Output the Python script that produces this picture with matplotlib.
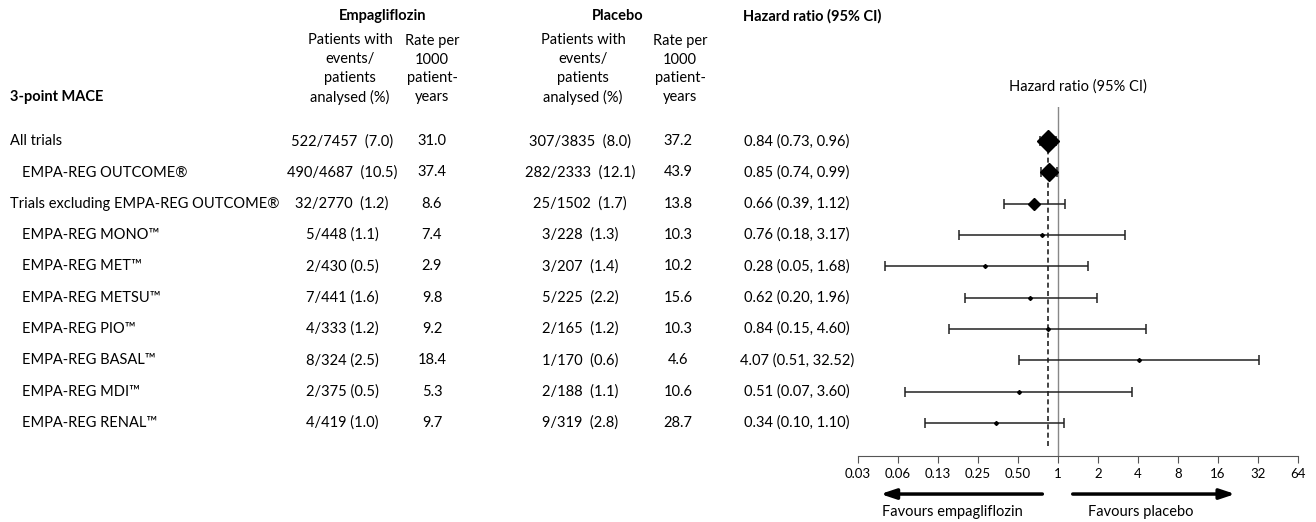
import matplotlib.pyplot as plt
import matplotlib.transforms as mtransforms
import numpy as np

plt.rcParams['font.family'] = ['Lato', 'DejaVu Sans']

labels = ["All trials", "EMPA-REG OUTCOME®", "Trials excluding EMPA-REG OUTCOME®",
          "EMPA-REG MONO™", "EMPA-REG MET™", "EMPA-REG METSU™", "EMPA-REG PIO™",
          "EMPA-REG BASAL™", "EMPA-REG MDI™", "EMPA-REG RENAL™"]
indent = [0, 1, 0, 1, 1, 1, 1, 1, 1, 1]
empa_events = ["522/7457  (7.0)", "490/4687  (10.5)", "32/2770  (1.2)", "5/448 (1.1)",
               "2/430 (0.5)", "7/441 (1.6)", "4/333 (1.2)", "8/324 (2.5)",
               "2/375 (0.5)", "4/419 (1.0)"]
empa_rate = ["31.0", "37.4", "8.6", "7.4", "2.9", "9.8", "9.2", "18.4", "5.3", "9.7"]
pbo_events = ["307/3835  (8.0)", "282/2333  (12.1)", "25/1502  (1.7)", "3/228  (1.3)",
              "3/207  (1.4)", "5/225  (2.2)", "2/165  (1.2)", "1/170  (0.6)",
              "2/188  (1.1)", "9/319  (2.8)"]
pbo_rate = ["37.2", "43.9", "13.8", "10.3", "10.2", "15.6", "10.3", "4.6", "10.6", "28.7"]
hr = [0.84, 0.85, 0.66, 0.76, 0.28, 0.62, 0.84, 4.07, 0.51, 0.34]
lo = [0.73, 0.74, 0.39, 0.18, 0.05, 0.20, 0.15, 0.51, 0.07, 0.10]
hi = [0.96, 0.99, 1.12, 3.17, 1.68, 1.96, 4.60, 32.52, 3.60, 1.10]
marker_size = [11, 9, 6, 2, 2, 2, 2, 2, 2, 2]
tick_vals = [2.0 ** k for k in range(-5, 7)]
tick_labels = ["0.03", "0.06", "0.13", "0.25", "0.50", "1", "2", "4", "8", "16", "32", "64"]
overall_hr = 0.84

W, H = 1316, 522
fig = plt.figure(figsize=(W / 100, H / 100), dpi=100)

def fx(px):
    return px / W

def fy(py):
    return 1 - py / H

ax = fig.add_axes([fx(858), fy(456), fx(440), fy(107) - fy(456)])
ax.set_xscale('log', base=2)
ax.set_xlim(2.0 ** -5, 2.0 ** 6)
ax.set_ylim(10.06, -1.09)
ax.set_xticks(tick_vals)
ax.set_xticklabels(tick_labels)
ax.minorticks_off()
ax.tick_params(axis='x', direction='out', length=5, labelsize=9.5, color='#555555')
ax.set_yticks([])
for s in ['left', 'top', 'right']:
    ax.spines[s].set_visible(False)
ax.spines['bottom'].set_color('#555555')

ax.axvline(1, color='#888888', lw=1)
ax.plot([overall_hr, overall_hr], [0, 9.8], color='#222222', lw=1.2, ls=(0, (3, 2)))

y = np.arange(len(labels))
for i in range(len(labels)):
    ax.errorbar(hr[i], y[i], xerr=[[hr[i] - lo[i]], [hi[i] - hr[i]]], fmt='none',
                ecolor='#222222', elinewidth=1.1, capsize=3.5, capthick=1.1)
    ax.plot(hr[i], y[i], marker='D', color='black', ms=marker_size[i], ls='none')

ax.set_title("Hazard ratio (95% CI)", fontsize=10.5, pad=12)

# arrows
ax.annotate("", xy=(0.044, -0.109), xytext=(0.80, -0.109), xycoords=('data', 'axes fraction'),
            arrowprops=dict(arrowstyle='-|>,head_length=0.9,head_width=0.3', lw=2.5, color='black'))
ax.annotate("", xy=(22.6, -0.109), xytext=(1.23, -0.109), xycoords=('data', 'axes fraction'),
            arrowprops=dict(arrowstyle='-|>,head_length=0.9,head_width=0.3', lw=2.5, color='black'))
fig.text(fx(952), fy(512), "Favours empagliflozin", ha='center', va='center', fontsize=10.5)
fig.text(fx(1141), fy(512), "Favours placebo", ha='center', va='center', fontsize=10.5)

# table
tr = mtransforms.blended_transform_factory(fig.transFigure, ax.transData)
fs = 10.5
for i in range(len(labels)):
    fig.text(fx(10 + 12 * indent[i]), y[i], labels[i], transform=tr, ha='left', va='center', fontsize=fs)
    fig.text(fx(342), y[i], empa_events[i], transform=tr, ha='center', va='center', fontsize=fs)
    fig.text(fx(432), y[i], empa_rate[i], transform=tr, ha='center', va='center', fontsize=fs)
    fig.text(fx(580), y[i], pbo_events[i], transform=tr, ha='center', va='center', fontsize=fs)
    fig.text(fx(678), y[i], pbo_rate[i], transform=tr, ha='center', va='center', fontsize=fs)
    fig.text(fx(797), y[i], "%.2f (%.2f, %.2f)" % (hr[i], lo[i], hi[i]), transform=tr,
             ha='center', va='center', fontsize=fs)

fig.text(fx(383), fy(16), "Empagliflozin", ha='center', va='center', fontsize=fs, fontweight='bold')
fig.text(fx(618), fy(16), "Placebo", ha='center', va='center', fontsize=fs, fontweight='bold')
fig.text(fx(812), fy(16), "Hazard ratio (95% CI)", ha='center', va='center', fontsize=fs, fontweight='bold')
fig.text(fx(10), fy(97), "3-point MACE", ha='left', va='center', fontsize=fs, fontweight='bold')
sub1 = "Patients with\nevents/\npatients\nanalysed (%)"
sub2 = "Rate per\n1000\npatient-\nyears"
for px, s in [(350, sub1), (432, sub2), (583, sub1), (680, sub2)]:
    fig.text(fx(px), fy(69), s, ha='center', va='center', fontsize=fs, linespacing=1.42)

fig.savefig("out.png", dpi=100, facecolor='white')
